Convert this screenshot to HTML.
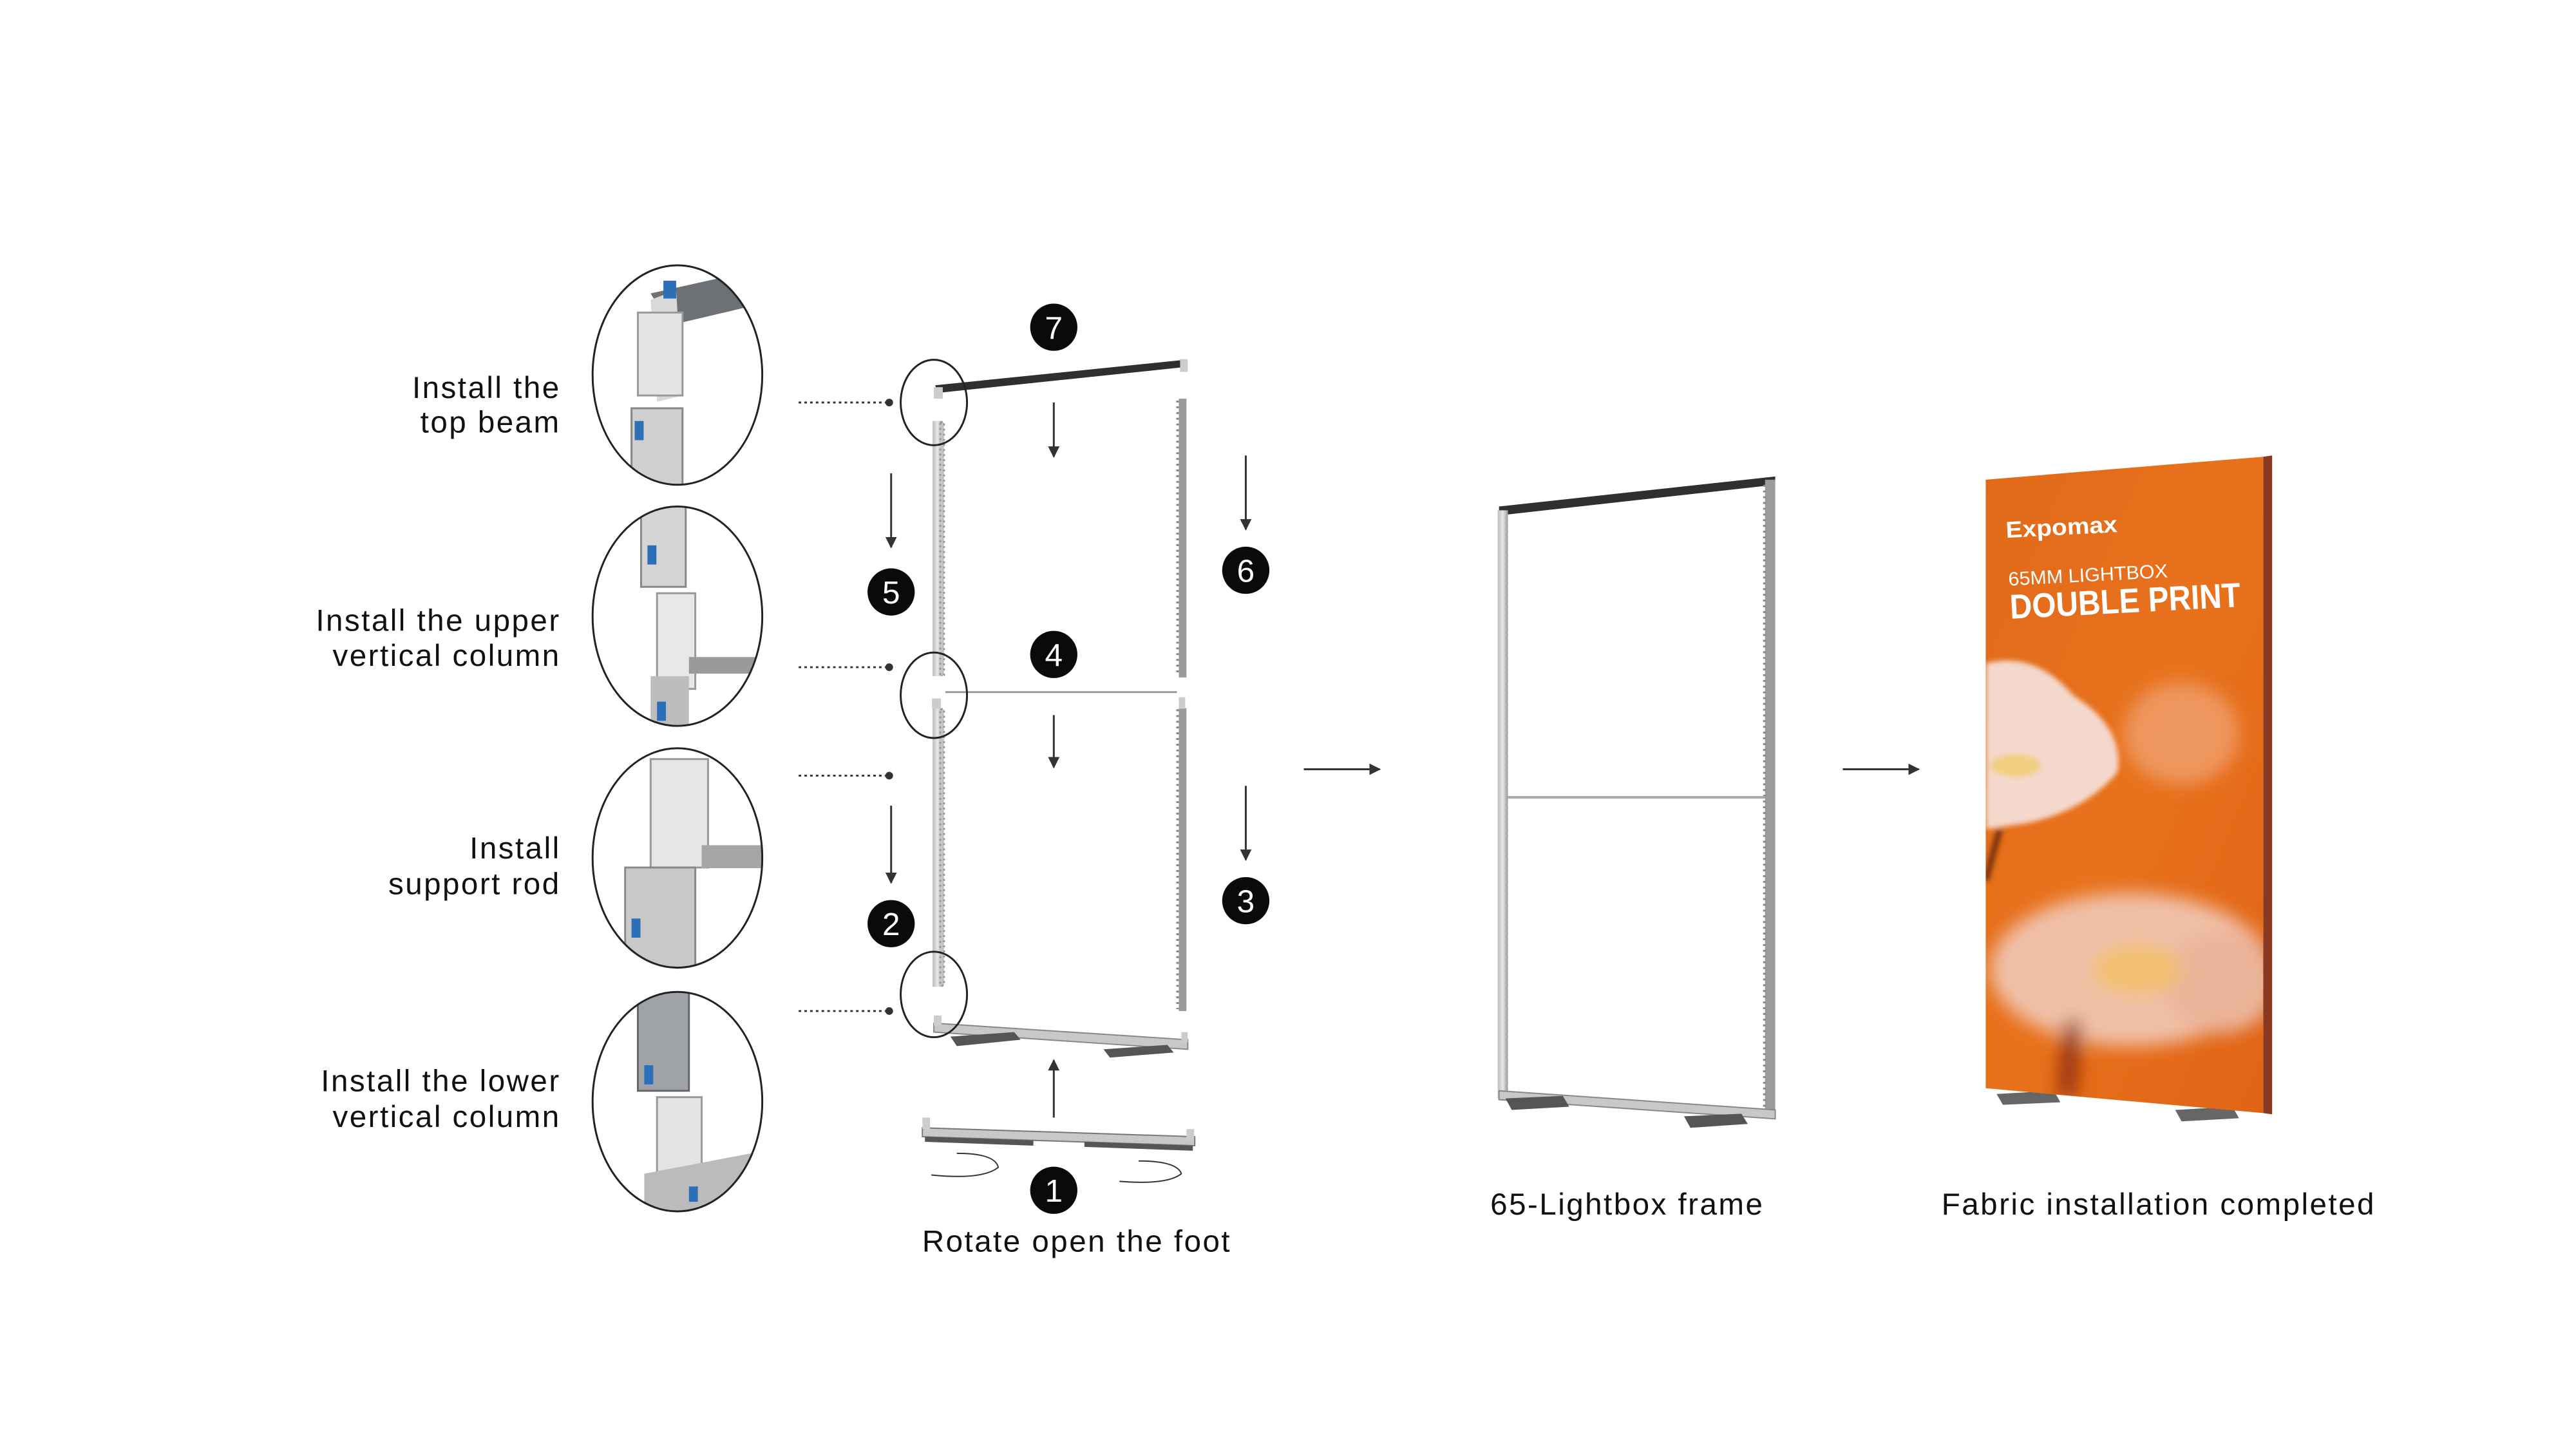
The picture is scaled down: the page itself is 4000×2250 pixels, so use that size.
<!DOCTYPE html>
<html><head><meta charset="utf-8"><style>
html,body{margin:0;padding:0;background:#fff}
svg{display:block}
text{font-family:"Liberation Sans",sans-serif}
.lb{letter-spacing:2.5px}
</style></head><body>
<svg width="4000" height="2250" viewBox="0 0 4000 2250" xmlns="http://www.w3.org/2000/svg">
<defs>
<marker id="ah" viewBox="0 0 10 10" refX="9" refY="5" markerWidth="6" markerHeight="6" orient="auto"><path d="M0,0L10,5L0,10z" fill="#333"/></marker>
<linearGradient id="org" x1="0" y1="0" x2="1" y2="1"><stop offset="0" stop-color="#e06a1a"/><stop offset="0.5" stop-color="#e8721c"/><stop offset="1" stop-color="#e06416"/></linearGradient>
<linearGradient id="met" x1="0" y1="0" x2="1" y2="0"><stop offset="0" stop-color="#bbb"/><stop offset="0.5" stop-color="#e8e8e8"/><stop offset="1" stop-color="#999"/></linearGradient>
<filter id="bl" x="-50%" y="-50%" width="200%" height="200%"><feGaussianBlur stdDeviation="14"/></filter>
<filter id="bl2"><feGaussianBlur stdDeviation="4"/></filter>
<clipPath id="c1"><ellipse cx="1062" cy="588" rx="133" ry="172"/></clipPath>
<clipPath id="c2"><ellipse cx="1062" cy="966" rx="133" ry="172"/></clipPath>
<clipPath id="c3"><ellipse cx="1062" cy="1345" rx="133" ry="172"/></clipPath>
<clipPath id="c4"><ellipse cx="1062" cy="1727" rx="133" ry="172"/></clipPath>
<clipPath id="ban"><polygon points="3113,752 3548,716 3548,1745 3113,1706"/></clipPath>
</defs>
<g transform="scale(0.9905)">
<g font-size="48" fill="#111" text-anchor="end" class="lb">
<text x="879" y="624">Install the</text><text x="879" y="678">top beam</text>
<text x="879" y="989">Install the upper</text><text x="879" y="1044">vertical column</text>
<text x="879" y="1346">Install</text><text x="879" y="1402">support rod</text>
<text x="879" y="1711">Install the lower</text><text x="879" y="1767">vertical column</text>
</g>

<g clip-path="url(#c1)">
<rect x="920" y="410" width="300" height="360" fill="#fff"/>
<polygon points="1020,460 1200,420 1220,470 1050,510" fill="#6d7075"/>
<polygon points="1020,470 1060,455 1070,620 1030,630" fill="#d9d9d9"/>
<rect x="1000" y="490" width="70" height="130" fill="#e4e4e4" stroke="#999" stroke-width="3"/>
<rect x="1040" y="440" width="20" height="28" fill="#2a6fb8"/>
<rect x="990" y="640" width="80" height="130" fill="#cfcfcf" stroke="#888" stroke-width="3"/>
<rect x="995" y="660" width="14" height="30" fill="#2a6fb8"/>
</g>
<g clip-path="url(#c2)">
<rect x="920" y="790" width="300" height="360" fill="#fff"/>
<rect x="1005" y="790" width="70" height="130" fill="#d4d4d4" stroke="#888" stroke-width="3"/>
<rect x="1015" y="855" width="14" height="30" fill="#2a6fb8"/>
<rect x="1030" y="930" width="60" height="150" fill="#e8e8e8" stroke="#999" stroke-width="3"/>
<rect x="1080" y="1030" width="140" height="26" fill="#9a9a9a"/>
<rect x="1020" y="1060" width="60" height="100" fill="#bdbdbd"/>
<rect x="1030" y="1100" width="14" height="30" fill="#2a6fb8"/>
</g>
<g clip-path="url(#c3)">
<rect x="920" y="1170" width="300" height="360" fill="#fff"/>
<rect x="1020" y="1190" width="90" height="170" fill="#e6e6e6" stroke="#999" stroke-width="3"/>
<rect x="1100" y="1325" width="130" height="36" fill="#a5a5a5"/>
<rect x="980" y="1360" width="110" height="170" fill="#c8c8c8" stroke="#888" stroke-width="3"/>
<rect x="990" y="1440" width="14" height="30" fill="#2a6fb8"/>
</g>
<g clip-path="url(#c4)">
<rect x="920" y="1550" width="300" height="360" fill="#fff"/>
<rect x="1000" y="1550" width="80" height="160" fill="#9fa3a8" stroke="#666" stroke-width="3"/>
<rect x="1010" y="1670" width="14" height="30" fill="#2a6fb8"/>
<rect x="1030" y="1720" width="70" height="130" fill="#e4e4e4" stroke="#999" stroke-width="3"/>
<polygon points="1010,1840 1220,1800 1220,1900 1010,1900" fill="#bbb"/>
<rect x="1080" y="1860" width="14" height="24" fill="#2a6fb8"/>
</g>
<g fill="none" stroke="#222" stroke-width="3">
<ellipse cx="1062" cy="588" rx="133" ry="172"/>
<ellipse cx="1062" cy="966" rx="133" ry="172"/>
<ellipse cx="1062" cy="1345" rx="133" ry="172"/>
<ellipse cx="1062" cy="1727" rx="133" ry="172"/>
</g>

<g stroke="#333" stroke-width="3" stroke-dasharray="4,5">
<line x1="1252" y1="631" x2="1388" y2="631"/>
<line x1="1252" y1="1046" x2="1388" y2="1046"/>
<line x1="1252" y1="1216" x2="1388" y2="1216"/>
<line x1="1252" y1="1585" x2="1388" y2="1585"/>
</g>
<g fill="#333"><circle cx="1394" cy="631" r="6"/><circle cx="1394" cy="1046" r="6"/><circle cx="1394" cy="1216" r="6"/><circle cx="1394" cy="1585" r="6"/></g>

<polygon points="1466,604 1858,564 1862,575 1470,616" fill="#2e2f31"/>
<rect x="1464" y="607" width="14" height="18" fill="#ccc"/>
<rect x="1850" y="563" width="12" height="20" fill="#ccc"/>
<rect x="1462" y="660" width="16" height="400" fill="url(#met)"/>
<rect x="1474" y="662" width="6" height="396" fill="#bfc6cc" stroke="#999" stroke-dasharray="3,5" stroke-width="3"/>
<rect x="1848" y="625" width="12" height="437" fill="#9a9a9a"/>
<line x1="1846" y1="628" x2="1846" y2="1060" stroke="#888" stroke-width="4" stroke-dasharray="3,6"/>
<line x1="1482" y1="1085" x2="1845" y2="1085" stroke="#999" stroke-width="3"/>
<rect x="1462" y="1110" width="16" height="437" fill="url(#met)"/>
<rect x="1474" y="1112" width="6" height="433" fill="#bfc6cc" stroke="#999" stroke-dasharray="3,5" stroke-width="3"/>
<rect x="1461" y="1095" width="14" height="16" fill="#ccc"/>
<rect x="1848" y="1110" width="12" height="475" fill="#9a9a9a"/>
<line x1="1846" y1="1112" x2="1846" y2="1582" stroke="#888" stroke-width="4" stroke-dasharray="3,6"/>
<rect x="1848" y="1093" width="10" height="18" fill="#ccc"/>
<polygon points="1464,1604 1862,1630 1862,1645 1464,1618" fill="#c8c8c8" stroke="#888" stroke-width="2"/>
<polygon points="1490,1625 1590,1618 1600,1630 1500,1640" fill="#555"/>
<polygon points="1730,1645 1830,1638 1840,1650 1740,1658" fill="#555"/>
<rect x="1464" y="1592" width="12" height="16" fill="#ccc"/>
<rect x="1852" y="1618" width="10" height="16" fill="#ccc"/>
<polygon points="1446,1768 1873,1782 1873,1796 1446,1782" fill="#c8c8c8" stroke="#777" stroke-width="2"/>
<polygon points="1450,1782 1620,1788 1620,1796 1450,1790" fill="#555"/>
<polygon points="1700,1790 1870,1796 1870,1804 1700,1798" fill="#555"/>
<rect x="1446" y="1752" width="12" height="18" fill="#ccc"/>
<rect x="1860" y="1770" width="12" height="18" fill="#ccc"/>
<g fill="none" stroke="#222" stroke-width="3">
<ellipse cx="1464" cy="631" rx="52" ry="67"/>
<ellipse cx="1464" cy="1090" rx="52" ry="67"/>
<ellipse cx="1464" cy="1559" rx="52" ry="67"/>
</g>
<g stroke="#333" stroke-width="3" marker-end="url(#ah)">
<line x1="1652" y1="631" x2="1652" y2="716"/>
<line x1="1652" y1="1121" x2="1652" y2="1203"/>
<line x1="1397" y1="742" x2="1397" y2="858"/>
<line x1="1397" y1="1263" x2="1397" y2="1384"/>
<line x1="1953" y1="714" x2="1953" y2="830"/>
<line x1="1953" y1="1232" x2="1953" y2="1348"/>
<line x1="1652" y1="1752" x2="1652" y2="1662"/>
<line x1="2044" y1="1206" x2="2163" y2="1206"/>
<line x1="2889" y1="1206" x2="3008" y2="1206"/>
</g>
<g fill="none" stroke="#333" stroke-width="2">
<path d="M1460,1842 Q1540,1850 1565,1830 Q1560,1808 1500,1808"/>
<path d="M1755,1852 Q1830,1858 1852,1840 Q1845,1820 1785,1820"/>
</g>

<g fill="#0a0a0a">
<circle cx="1652" cy="513" r="37"/><circle cx="1397" cy="928" r="37"/><circle cx="1953" cy="894" r="37"/>
<circle cx="1652" cy="1026" r="37"/><circle cx="1397" cy="1448" r="37"/><circle cx="1953" cy="1412" r="37"/>
<circle cx="1652" cy="1866" r="37"/>
</g>
<g fill="#fff" font-size="50" text-anchor="middle">
<text x="1652" y="531">7</text><text x="1397" y="946">5</text><text x="1953" y="912">6</text>
<text x="1652" y="1044">4</text><text x="1397" y="1466">2</text><text x="1953" y="1430">3</text>
<text x="1652" y="1884">1</text>
</g>
<text x="1688" y="1962" font-size="48" fill="#111" text-anchor="middle" class="lb">Rotate open the foot</text>

<polygon points="2350,794 2783,747 2783,1752 2350,1721" fill="#fff"/>
<polygon points="2350,794 2783,747 2783,760 2350,808" fill="#2e2f31"/>
<rect x="2348" y="800" width="16" height="922" fill="url(#met)"/>
<rect x="2767" y="752" width="16" height="1000" fill="#9b9b9b"/>
<line x1="2362" y1="810" x2="2362" y2="1715" stroke="#aaa" stroke-width="4" stroke-dasharray="3,6"/>
<line x1="2766" y1="760" x2="2766" y2="1745" stroke="#888" stroke-width="4" stroke-dasharray="3,6"/>
<line x1="2364" y1="1250" x2="2767" y2="1250" stroke="#aaa" stroke-width="4"/>
<polygon points="2350,1710 2783,1740 2783,1754 2350,1724" fill="#c8c8c8" stroke="#888" stroke-width="2"/>
<polygon points="2360,1722 2450,1718 2460,1735 2370,1740" fill="#555"/>
<polygon points="2640,1750 2730,1746 2740,1762 2650,1768" fill="#555"/>
<text x="2551" y="1904" font-size="48" fill="#111" text-anchor="middle" class="lb">65-Lightbox frame</text>

<polygon points="3130,1715 3220,1710 3230,1728 3140,1732" fill="#666"/>
<polygon points="3410,1740 3500,1735 3510,1753 3420,1758" fill="#666"/>
<polygon points="3548,716 3562,714 3562,1747 3548,1745" fill="#8a3a20"/>
<polygon points="3113,752 3548,716 3548,1745 3113,1706" fill="url(#org)"/>
<g clip-path="url(#ban)">
<g filter="url(#bl)">
<ellipse cx="3420" cy="1150" rx="90" ry="80" fill="#f0a070" opacity="0.8"/>
<ellipse cx="3340" cy="1520" rx="220" ry="120" fill="#f0c0a8"/>
<ellipse cx="3480" cy="1540" rx="90" ry="80" fill="#eab49a"/>
<ellipse cx="3350" cy="1520" rx="70" ry="40" fill="#f2c070"/>
<path d="M3250,1600 L3240,1720" stroke="#8a2a10" stroke-width="25"/>
</g>
<g filter="url(#bl2)">
<path d="M3113,1040 Q3190,1020 3250,1090 Q3330,1140 3320,1210 Q3270,1270 3180,1290 L3113,1300 Z" fill="#f4d8cc"/>
<ellipse cx="3160" cy="1200" rx="40" ry="18" fill="#f0d080"/>
<path d="M3135,1300 L3113,1380" stroke="#7a3010" stroke-width="10"/>
</g>
<g transform="rotate(-3 3150 900)" fill="#fff">
<text x="3148" y="843" font-size="36" font-weight="bold" textLength="175" lengthAdjust="spacingAndGlyphs">Expomax</text>
<text x="3148" y="918" font-size="30" textLength="250" lengthAdjust="spacingAndGlyphs">65MM LIGHTBOX</text>
<text x="3148" y="970" font-size="54" font-weight="bold" textLength="362" lengthAdjust="spacingAndGlyphs">DOUBLE PRINT</text>
</g>
</g>
<text x="3384" y="1904" font-size="48" fill="#111" text-anchor="middle" class="lb">Fabric installation completed</text>
</g>
</svg>
</body></html>
